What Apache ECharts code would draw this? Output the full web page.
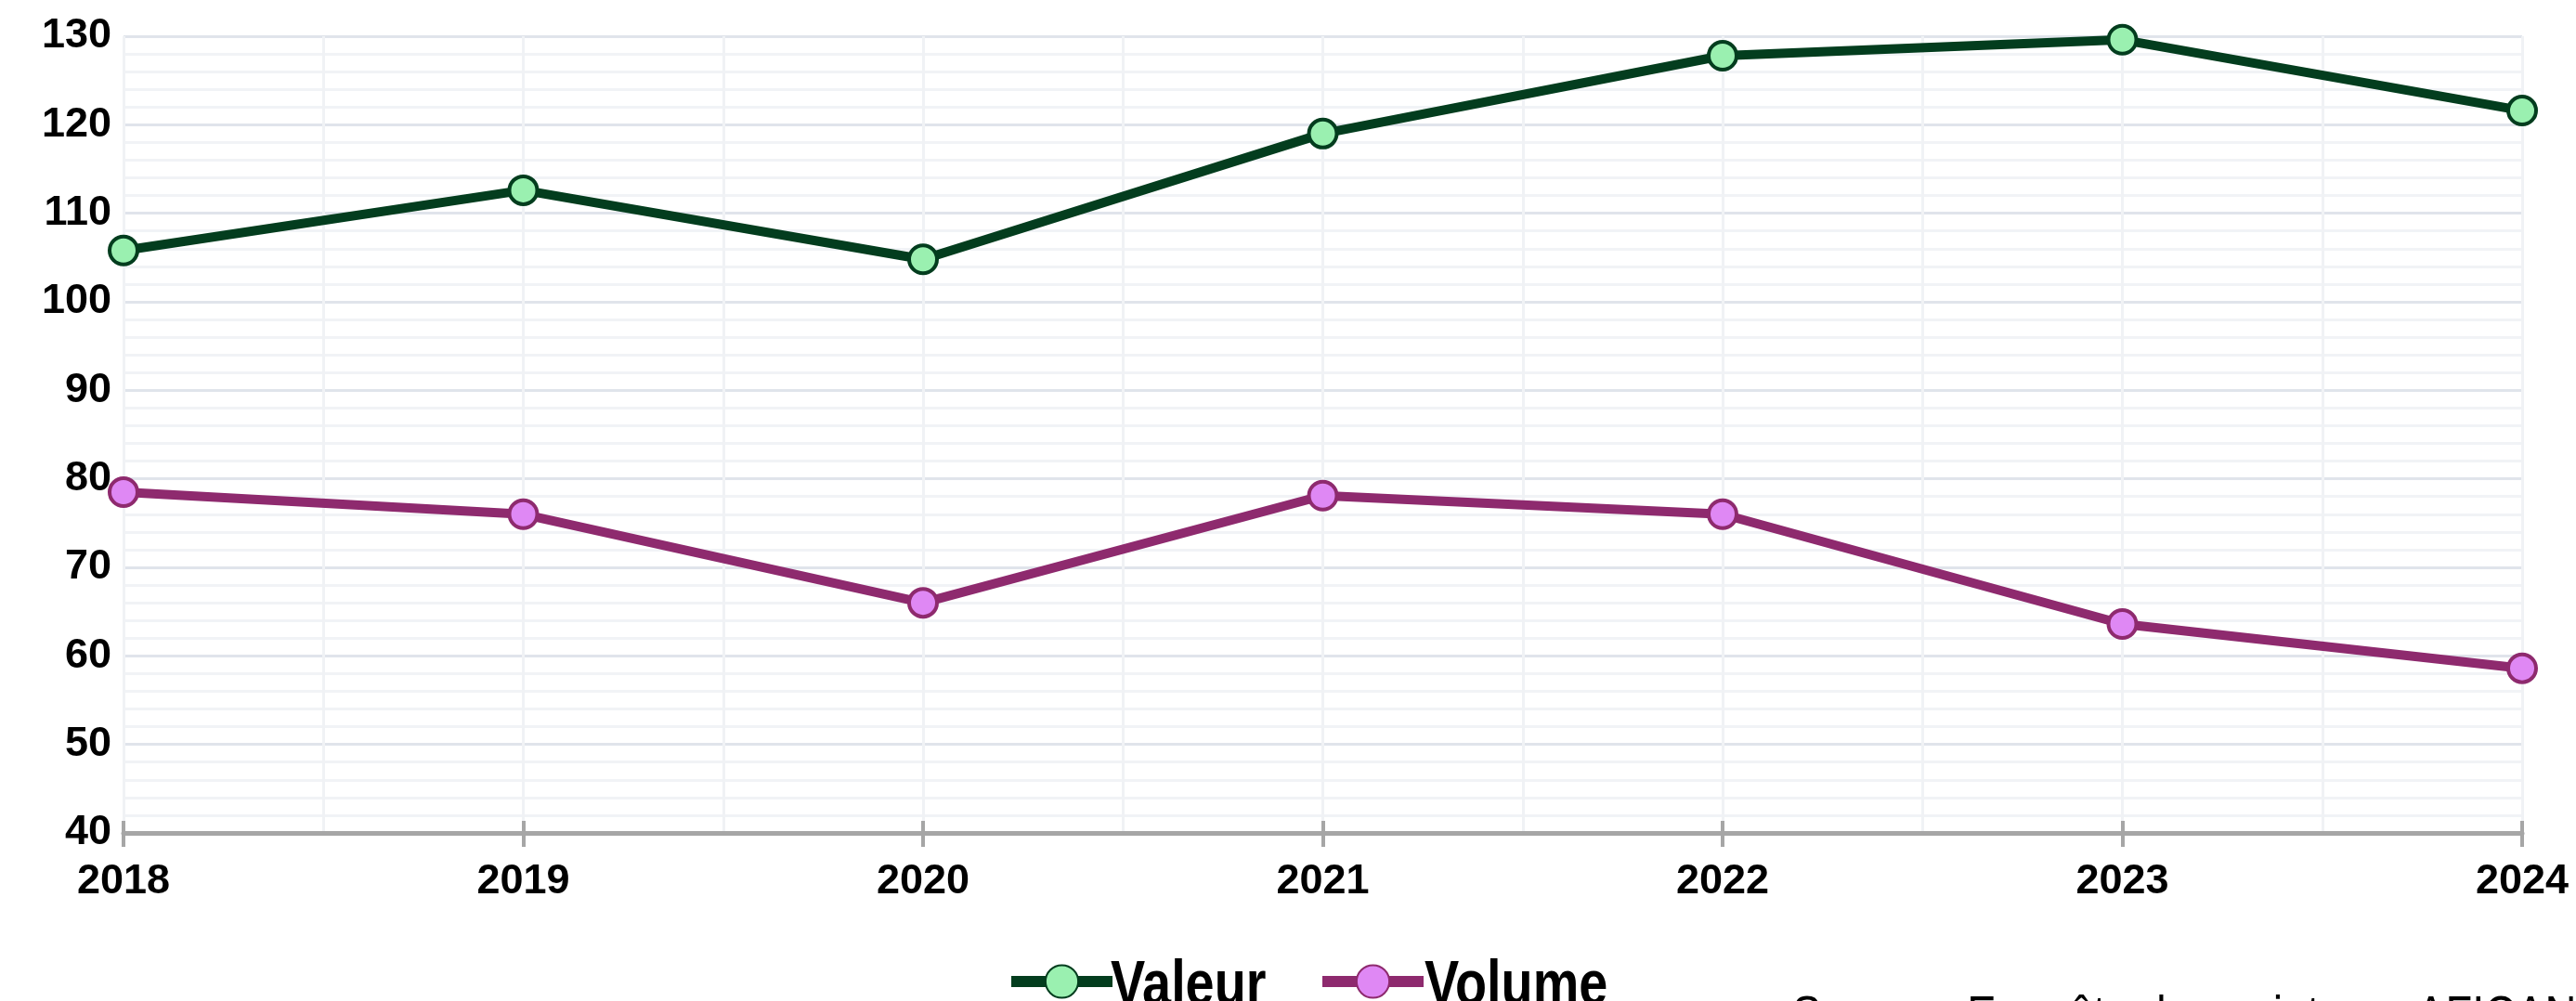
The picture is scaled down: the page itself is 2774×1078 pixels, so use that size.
<!DOCTYPE html>
<html>
<head>
<meta charset="utf-8">
<script src="https://cdn.jsdelivr.net/npm/echarts@6/dist/echarts.min.js"></script>
<style>
html,body{margin:0;padding:0;background:#fff;}
#chart{width:2774px;height:1078px;}
</style>
</head>
<body>
<div id="chart"></div>
<script>
const years = [2018, 2019, 2020, 2021, 2022, 2023, 2024];
const valeur = [105.8, 112.6, 104.8, 119.0, 127.8, 129.6, 121.6];
const volume = [78.5, 76.0, 66.0, 78.1, 76.0, 63.6, 58.6];
const seriesNames = ['Valeur', 'Volume'];
const sourceText = 'Source : Enquête des pointeurs AFICAN';

const chart = echarts.init(document.getElementById('chart'), null, {renderer: 'canvas'});
const axisFont = '"Liberation Sans", Arial, sans-serif';

function legendFor(name, left) {
  return {
    data: [name],
    left: left,
    top: 1035,
    padding: 0,
    itemWidth: 109,
    itemHeight: 44,
    formatter: () => '',
    lineStyle: {width: 12},
    textStyle: {fontSize: 1}
  };
}
function legendLabel(name, x) {
  return {
    type: 'text',
    x: x, y: 1097,
    scaleX: 0.82,
    style: {text: name, font: 'bold 68px ' + axisFont, fill: '#000', verticalAlign: 'bottom'}
  };
}

const option = {
  backgroundColor: '#ffffff',
  animation: false,
  grid: {left: 133, right: 58, top: 39, bottom: 181, containLabel: false},
  legend: [legendFor(seriesNames[0], 1083), legendFor(seriesNames[1], 1418)],
  xAxis: [{
    type: 'value',
    min: 2018, max: 2024, interval: 1,
    axisLine: {show: true, lineStyle: {color: '#a6a6a6', width: 5}},
    axisTick: {show: true, length: 15, lineStyle: {color: '#a6a6a6', width: 4}},
    axisLabel: {margin: 30, fontFamily: axisFont, fontWeight: 'bold', fontSize: 45, color: '#000',
      formatter: v => String(v)},
    splitLine: {show: true, lineStyle: {color: '#f0f2f5', width: 3}},
    minorTick: {show: false, splitNumber: 2},
    minorSplitLine: {show: true, lineStyle: {color: '#f0f2f5', width: 3}}
  }, {
    type: 'value',
    position: 'bottom',
    min: 2018, max: 2024, interval: 1,
    axisLine: {show: false},
    axisTick: {show: true, inside: true, length: 13, lineStyle: {color: '#a6a6a6', width: 4}},
    axisLabel: {show: false},
    splitLine: {show: false}
  }],
  yAxis: {
    type: 'value',
    min: 40, max: 130, interval: 10,
    axisLine: {show: false},
    axisTick: {show: false},
    axisLabel: {margin: 13, fontFamily: axisFont, fontWeight: 'bold', fontSize: 45, color: '#000'},
    splitLine: {show: true, lineStyle: {color: '#e0e4eb', width: 3}},
    minorTick: {show: false, splitNumber: 5},
    minorSplitLine: {show: true, lineStyle: {color: '#f1f3f6', width: 3}}
  },
  series: [{
    name: seriesNames[0],
    type: 'line',
    clip: false,
    data: years.map((y, i) => [y, valeur[i]]),
    symbol: 'circle',
    symbolSize: 30,
    lineStyle: {color: '#033d1e', width: 10},
    itemStyle: {color: '#9af0b0', borderColor: '#033d1e', borderWidth: 4},
    z: 3
  }, {
    name: seriesNames[1],
    type: 'line',
    clip: false,
    data: years.map((y, i) => [y, volume[i]]),
    symbol: 'circle',
    symbolSize: 30,
    lineStyle: {color: '#8e2a6e', width: 10},
    itemStyle: {color: '#df88f4', borderColor: '#8e2a6e', borderWidth: 4},
    z: 3
  }],
  graphic: [
    legendLabel(seriesNames[0], 1196),
    legendLabel(seriesNames[1], 1534),
    {
      type: 'text',
      x: 1930, y: 1124,
      scaleX: 0.84,
      style: {text: sourceText, font: 'normal 56px ' + axisFont, fill: '#000', verticalAlign: 'bottom'}
    }
  ]
};
chart.setOption(option);
</script>
</body>
</html>
